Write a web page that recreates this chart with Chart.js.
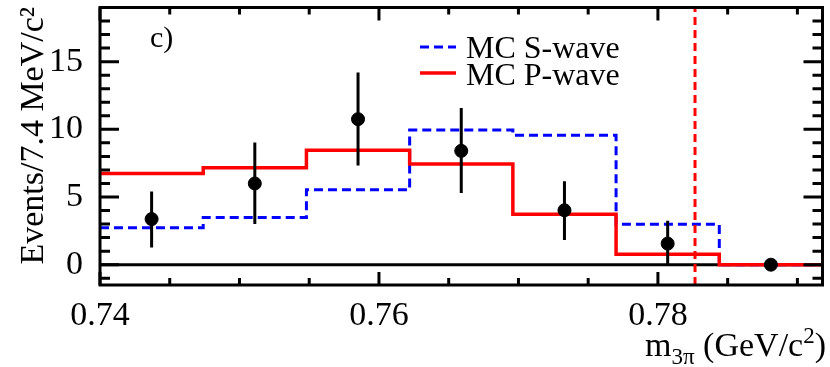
<!DOCTYPE html>
<html lang="en">
<head>
    <meta charset="UTF-8">
    <title>m3pi distribution</title>
    <script src="https://cdn.jsdelivr.net/npm/chart.js"></script>
    <style>
        html, body { margin: 0; padding: 0; background: #ffffff; }
        #wrap { position: relative; width: 830px; height: 367px; }
    </style>
</head>
<body>
    <div id="wrap"><canvas id="m3piChart"></canvas></div>
    <script>
        // bin edges (7.4 MeV bins) and histogram contents
        const binEdges = [0.7400, 0.7474, 0.7548, 0.7622, 0.7696, 0.7770, 0.7844, 0.7918];
        const sWave = [2.73, 3.49, 5.54, 9.95, 9.56, 2.98, 0.0];
        const pWave = [6.73, 7.17, 8.46, 7.44, 3.73, 0.78, 0.0];

        // data points with error bars
        const binCenters = [0.7437, 0.7511, 0.7585, 0.7659, 0.7733, 0.7807, 0.7881];
        const dataY = [3.37, 6.0, 10.75, 8.41, 4.02, 1.56, 0.0];
        const errHigh = [5.41, 9.02, 14.19, 11.58, 6.17, 3.24, 0.0];
        const errLow = [1.27, 3.0, 7.32, 5.29, 1.83, 0.0, 0.0];

        const omegaMass = 0.78266;

        // axis ticks
        const xMajor = [0.74, 0.76, 0.78];
        const xMinor = [0.745, 0.75, 0.755, 0.765, 0.77, 0.775, 0.785, 0.79];
        const yMajor = [0, 5, 10, 15];
        const yMinor = [-1, 1, 2, 3, 4, 6, 7, 8, 9, 11, 12, 13, 14, 16, 17, 18];

        const serif = "'Liberation Serif', 'DejaVu Serif', serif";

        // step histogram: one point per left edge, last value repeated at the right edge
        function histPoints(values) {
            return binEdges.map((e, i) => ({ x: e, y: values[Math.min(i, values.length - 1)] }));
        }

        function errorSegments() {
            const pts = [];
            binCenters.forEach((c, i) => {
                if (errHigh[i] === errLow[i]) return;
                pts.push({ x: c, y: errLow[i] }, { x: c, y: errHigh[i] }, { x: c, y: null });
            });
            return pts;
        }

        // frame, inner ticks, legend and labels
        const decorPlugin = {
            id: 'decor',
            afterDraw(chart) {
                const ctx = chart.ctx;
                const area = chart.chartArea;
                const xs = chart.scales.x;
                const ys = chart.scales.y;
                ctx.save();
                ctx.strokeStyle = '#000';
                ctx.lineWidth = 3;

                // x ticks, bottom and top
                ctx.beginPath();
                xMajor.concat(xMinor).forEach(v => {
                    const px = xs.getPixelForValue(v);
                    const len = xMajor.includes(v) ? 13 : 7;
                    ctx.moveTo(px, area.bottom); ctx.lineTo(px, area.bottom - len);
                    ctx.moveTo(px, area.top); ctx.lineTo(px, area.top + len);
                });
                // y ticks, left and right
                yMajor.concat(yMinor).forEach(v => {
                    const py = ys.getPixelForValue(v);
                    const len = yMajor.includes(v) ? 19 : 10;
                    ctx.moveTo(area.left, py); ctx.lineTo(area.left + len, py);
                    ctx.moveTo(area.right, py); ctx.lineTo(area.right - len, py);
                });
                ctx.stroke();
                ctx.strokeRect(area.left, area.top, area.right - area.left, area.bottom - area.top);

                // legend
                ctx.lineWidth = 3;
                ctx.strokeStyle = '#0000ff';
                ctx.setLineDash([9, 5]);
                ctx.beginPath(); ctx.moveTo(420, 47); ctx.lineTo(456, 47); ctx.stroke();
                ctx.setLineDash([]);
                ctx.strokeStyle = '#ff0000';
                ctx.lineWidth = 3.5;
                ctx.beginPath(); ctx.moveTo(420, 73); ctx.lineTo(456, 73); ctx.stroke();

                ctx.fillStyle = '#000';
                ctx.textBaseline = 'alphabetic';
                ctx.textAlign = 'left';
                ctx.font = '32px ' + serif;
                ctx.fillText('MC S-wave', 466, 58);
                ctx.fillText('MC P-wave', 466, 85);

                ctx.font = '30px ' + serif;
                ctx.fillText('c)', 150, 47);

                // y title
                ctx.save();
                ctx.translate(43, 7);
                ctx.rotate(-Math.PI / 2);
                ctx.textAlign = 'right';
                ctx.font = '34px ' + serif;
                ctx.fillText('Events/7.4 MeV/c\u00B2', 0, 0);
                ctx.restore();

                // x title with sub/superscript
                const big = '34px ' + serif;
                const small = '23px ' + serif;
                const parts = [
                    { t: 'm', f: big, dy: 0 },
                    { t: '3\u03C0', f: small, dy: 8 },
                    { t: ' (GeV/c', f: big, dy: 0 },
                    { t: '2', f: small, dy: -13 },
                    { t: ')', f: big, dy: 0 }
                ];
                let total = 0;
                parts.forEach(p => { ctx.font = p.f; p.w = ctx.measureText(p.t).width; total += p.w; });
                let x = 826 - total;
                parts.forEach(p => {
                    ctx.font = p.f;
                    ctx.fillText(p.t, x, 356 + p.dy);
                    x += p.w;
                });
                ctx.restore();
            }
        };

        new Chart(document.getElementById('m3piChart'), {
            type: 'line',
            data: {
                datasets: [
                    {
                        label: 'data',
                        data: binCenters.map((c, i) => ({ x: c, y: dataY[i] })),
                        showLine: false,
                        pointRadius: 6.5,
                        pointBackgroundColor: '#000',
                        pointBorderColor: '#000',
                        order: 0
                    },
                    {
                        label: 'errors',
                        data: errorSegments(),
                        borderColor: '#000',
                        borderWidth: 3,
                        pointRadius: 0,
                        spanGaps: false,
                        order: 1
                    },
                    {
                        label: 'omega',
                        data: [{ x: omegaMass, y: -1.5 }, { x: omegaMass, y: 19 }],
                        borderColor: '#ff0000',
                        borderWidth: 3,
                        borderDash: [8, 5],
                        pointRadius: 0,
                        order: 2
                    },
                    {
                        label: 'MC P-wave',
                        data: histPoints(pWave),
                        stepped: 'before',
                        borderColor: '#ff0000',
                        borderWidth: 3.5,
                        pointRadius: 0,
                        order: 3
                    },
                    {
                        label: 'MC S-wave',
                        data: histPoints(sWave),
                        stepped: 'before',
                        borderColor: '#0000ff',
                        borderWidth: 3,
                        borderDash: [9, 5],
                        pointRadius: 0,
                        order: 4
                    },
                    {
                        label: 'zero',
                        data: [{ x: binEdges[0], y: 0 }, { x: binEdges[binEdges.length - 1], y: 0 }],
                        borderColor: '#000',
                        borderWidth: 3,
                        pointRadius: 0,
                        order: 5
                    }
                ]
            },
            options: {
                responsive: true,
                maintainAspectRatio: false,
                animation: false,
                layout: { padding: { top: 5, right: 2, left: 0, bottom: 0 } },
                plugins: {
                    legend: { display: false },
                    tooltip: { enabled: false }
                },
                scales: {
                    x: {
                        type: 'linear',
                        min: 0.74,
                        max: 0.7918,
                        grid: { display: false },
                        border: { display: false },
                        afterBuildTicks: scale => { scale.ticks = xMajor.map(v => ({ value: v })); },
                        afterFit: scale => {
                            scale.height = 82;
                            scale.paddingLeft = 0;
                            scale.paddingRight = 0;
                        },
                        ticks: {
                            color: '#000',
                            padding: 3,
                            maxRotation: 0,
                            font: { family: serif, size: 34 },
                            callback: v => v.toFixed(2)
                        }
                    },
                    y: {
                        min: -1.5,
                        max: 19,
                        grid: { display: false },
                        border: { display: false },
                        afterBuildTicks: scale => { scale.ticks = yMajor.map(v => ({ value: v })); },
                        afterFit: scale => {
                            scale.width = 100;
                            scale.paddingTop = 0;
                            scale.paddingBottom = 0;
                        },
                        ticks: {
                            color: '#000',
                            padding: 9,
                            font: { family: serif, size: 34 },
                            callback: v => String(v)
                        }
                    }
                }
            },
            plugins: [decorPlugin]
        });
    </script>
</body>
</html>
